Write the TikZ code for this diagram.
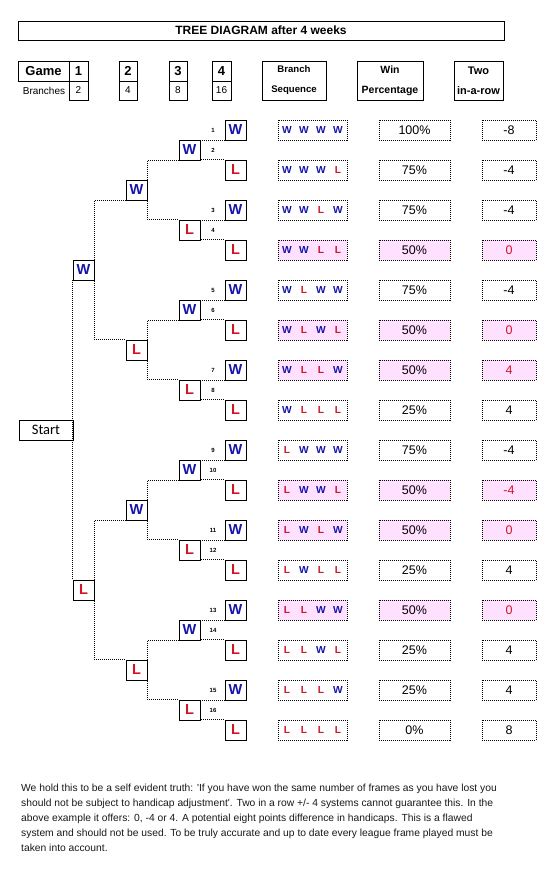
\documentclass[tikz,border=0pt]{standalone}
\usepackage{fontspec}
\setmainfont{Liberation Sans}
\newfontfamily\startfont{Carlito}
\definecolor{wblue}{RGB}{20,20,170}
\definecolor{lred}{RGB}{210,20,40}
\definecolor{pinkfill}{RGB}{255,224,255}
\newcommand\seqlet[1]{\makebox[17pt]{\if W#1\textcolor{wblue}{W}\else\textcolor{lred}{L}\fi}}
\begin{document}
\begin{tikzpicture}[x=1pt,y=-1pt,
  solidbox/.style={draw, line width=0.9pt, inner sep=0pt},
  tbox/.style={solidbox, minimum width=21pt, minimum height=20pt, font=\fontsize{14.5}{14.5}\selectfont\bfseries},
  wnode/.style={tbox, text=wblue},
  lnode/.style={tbox, text=lred},
  conn/.style={line width=0.9pt, dash pattern=on 1pt off 1pt},
  dotbox/.style={draw, line width=0.9pt, dash pattern=on 1pt off 1pt, inner sep=0pt, minimum height=20pt},
  hbox/.style={solidbox, minimum height=20pt},
  hnum/.style={hbox, font=\fontsize{13}{13}\selectfont\bfseries},
  hsub/.style={hbox, minimum height=19pt, font=\fontsize{10}{10}\selectfont},
  colhead/.style={solidbox, minimum height=39pt, align=center},
  tiny/.style={inner sep=0pt, font=\fontsize{6}{6}\selectfont\bfseries},
  bodytext/.style={inner sep=0pt, anchor=base west, font=\fontsize{10.3}{15}\selectfont, text=black!90}
]
\useasboundingbox (0,0) rectangle (555,881);

% ---- header ----
\node[solidbox, minimum width=486pt, minimum height=19pt, font=\fontsize{12}{12}\selectfont\bfseries] (title) at (261,30.5) {TREE DIAGRAM after 4 weeks};
\node[hnum, minimum width=51pt] (game) at (43.5,71) {Game};
\node[inner sep=0pt, font=\fontsize{10}{10}\selectfont] (branches) at (44,90.5) {Branches};
\node[hnum, minimum width=19pt] (g1) at (78.5,71) {1};
\node[hsub, minimum width=19pt] (s1) at (78.5,90.5) {2};
\node[hnum, minimum width=18pt] (g2) at (128,71) {2};
\node[hsub, minimum width=18pt] (s2) at (128,90.5) {4};
\node[hnum, minimum width=18pt] (g3) at (178,71) {3};
\node[hsub, minimum width=18pt] (s3) at (178,90.5) {8};
\node[hnum, minimum width=19pt] (g4) at (221.5,71) {4};
\node[hsub, minimum width=19pt] (s4) at (221.5,90.5) {16};
\node[colhead, minimum width=64pt, font=\fontsize{9.6}{20}\selectfont\bfseries] (seqhead) at (294,80.5) {Branch\\Sequence};
\node[colhead, minimum width=66pt, font=\fontsize{10.5}{20}\selectfont\bfseries] (winhead) at (390,80.5) {Win\\Percentage};
\node[colhead, minimum width=49pt, font=\fontsize{11}{20}\selectfont\bfseries] (twohead) at (478.5,80.5) {Two\\in-a-row};

% ---- tree ----
\node[solidbox, minimum width=54pt, minimum height=20pt, font=\startfont\fontsize{14.5}{14.5}\selectfont] (start) at (46,430) {Start};
\node[wnode] (a1) at (83.5,270) {W};
\node[lnode] (a2) at (83.5,590) {L};
\foreach \i in {1,...,4}{
  \pgfmathtruncatemacro\yy{190+160*(\i-1)}
  \ifodd\i \node[wnode] (b\i) at (136.5,\yy) {W}; \else \node[lnode] (b\i) at (136.5,\yy) {L}; \fi
}
\foreach \j in {1,...,8}{
  \pgfmathtruncatemacro\yy{150+80*(\j-1)}
  \ifodd\j \node[wnode] (c\j) at (189.5,\yy) {W}; \else \node[lnode] (c\j) at (189.5,\yy) {L}; \fi
}
\foreach \k in {1,...,16}{
  \pgfmathtruncatemacro\yy{130+40*(\k-1)}
  \ifodd\k \node[wnode] (d\k) at (235.5,\yy) {W}; \else \node[lnode] (d\k) at (235.5,\yy) {L}; \fi
  \pgfmathtruncatemacro\ny{130+80*floor((\k-1)/2)+20*mod(\k-1,2)}
  \node[tiny] (n\k) at (213,\ny) {\k};
}

% connectors
\draw[conn] (a1.south west) -- (a2.north west);
\foreach \p/\u/\l in {a1/b1/b2, a2/b3/b4}{
  \draw[conn] (\u.south west) -- (\u.south west -| \p.east) -- (\l.north west -| \p.east) -- (\l.north west);
}
\foreach \i in {1,...,4}{
  \pgfmathtruncatemacro\ua{2*\i-1}
  \pgfmathtruncatemacro\la{2*\i}
  \draw[conn] (c\ua.south west) -- (c\ua.south west -| b\i.east) -- (c\la.north west -| b\i.east) -- (c\la.north west);
}
\foreach \j in {1,...,8}{
  \pgfmathtruncatemacro\ua{2*\j-1}
  \pgfmathtruncatemacro\la{2*\j}
  \draw[conn] (d\ua.south west) -- (d\ua.south west -| c\j.east) -- (d\la.north west -| c\j.east) -- (d\la.north west);
}

% ---- right columns ----
\foreach \k/\sa/\sb/\sc/\sd/\pc/\tw/\hl in {
  1/W/W/W/W/100/-8/0, 2/W/W/W/L/75/-4/0, 3/W/W/L/W/75/-4/0, 4/W/W/L/L/50/0/1,
  5/W/L/W/W/75/-4/0, 6/W/L/W/L/50/0/1, 7/W/L/L/W/50/4/1, 8/W/L/L/L/25/4/0,
  9/L/W/W/W/75/-4/0, 10/L/W/W/L/50/-4/1, 11/L/W/L/W/50/0/1, 12/L/W/L/L/25/4/0,
  13/L/L/W/W/50/0/1, 14/L/L/W/L/25/4/0, 15/L/L/L/W/25/4/0, 16/L/L/L/L/0/8/0}{
  \pgfmathtruncatemacro\yy{130+40*(\k-1)}
  \ifnum\hl=1
    \node[dotbox, fill=pinkfill, minimum width=69pt, font=\fontsize{10.2}{10.2}\selectfont\bfseries] (q\k) at (312.5,\yy) {\seqlet{\sa}\seqlet{\sb}\seqlet{\sc}\seqlet{\sd}};
    \node[dotbox, fill=pinkfill, minimum width=71pt, font=\fontsize{12.5}{12.5}\selectfont] (w\k) at (414.5,\yy) {\pc\%};
    \node[dotbox, fill=pinkfill, minimum width=54pt, font=\fontsize{12.5}{12.5}\selectfont, text=lred] (t\k) at (509,\yy) {\tw};
  \else
    \node[dotbox, minimum width=69pt, font=\fontsize{10.2}{10.2}\selectfont\bfseries] (q\k) at (312.5,\yy) {\seqlet{\sa}\seqlet{\sb}\seqlet{\sc}\seqlet{\sd}};
    \node[dotbox, minimum width=71pt, font=\fontsize{12.5}{12.5}\selectfont] (w\k) at (414.5,\yy) {\pc\%};
    \node[dotbox, minimum width=54pt, font=\fontsize{12.5}{12.5}\selectfont] (t\k) at (509,\yy) {\tw};
  \fi
}

% ---- bottom text ----
\node[bodytext] (txt1) at (21,791) {We hold this to be a self evident truth: \textquotesingle If you have won the same number of frames as you have lost you};
\node[bodytext] (txt2) at (21,806) {should not be subject to handicap adjustment\textquotesingle. Two in a row +/- 4 systems cannot guarantee this. In the};
\node[bodytext] (txt3) at (21,821) {above example it offers: 0, -4 or 4. A potential eight points difference in handicaps. This is a flawed};
\node[bodytext] (txt4) at (21,836) {system and should not be used. To be truly accurate and up to date every league frame played must be};
\node[bodytext] (txt5) at (21,851) {taken into account.};
\end{tikzpicture}
\end{document}
